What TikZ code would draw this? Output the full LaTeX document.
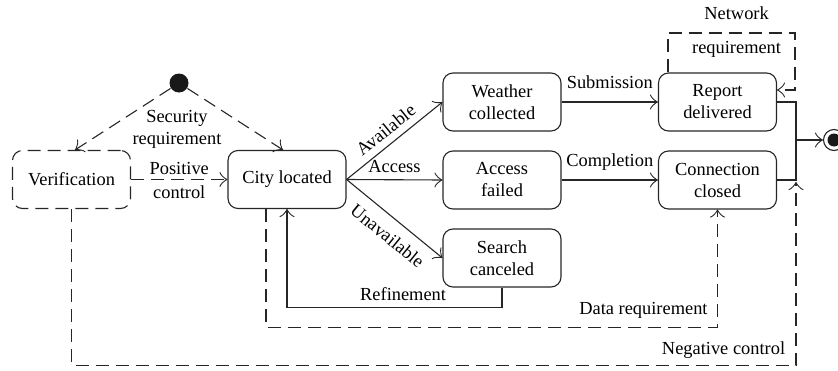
\documentclass[tikz,border=0pt]{standalone}
\usepackage{fontspec}
\setmainfont{Liberation Serif}
\usetikzlibrary{arrows.meta}
\begin{document}
\begin{tikzpicture}[x=1pt,y=-1pt,
  font=\fontsize{18.4}{22}\selectfont,
  line width=1.1pt,
  >={Classical TikZ Rightarrow[length=8pt,width=15pt]},
  state/.style={draw=black!85, rounded corners=10pt, minimum width=118pt, minimum height=58pt, align=center, inner sep=2pt},
  dsh/.style={dash pattern=on 13pt off 7pt},
  lbl/.style={inner sep=0pt, text height=12pt, text depth=0pt},
  conn/.style={draw=black!85},
]
\useasboundingbox (0,0) rectangle (838,370);

% states
\node[circle, fill=black!90, minimum size=19pt, inner sep=0pt] (init) at (179,83) {};
\node[state, dsh] (ver) at (71.5,179.5) {Verification};
\node[state] (city) at (287,179.5) {City located};
\node[state] (wea) at (502,102) {Weather\\collected};
\node[state] (acc) at (502,180) {Access\\failed};
\node[state] (sea) at (502,258) {Search\\canceled};
\node[state] (rep) at (717.5,102) {Report\\delivered};
\node[state] (con) at (717.5,180) {Connection\\closed};
\node[circle, draw=black!85, minimum size=21pt, inner sep=0pt] (fin) at (834,140) {};
\fill[black!90] (fin.center) circle (6.5);

\coordinate (j) at (796,140);
\coordinate (cj) at (con.east -| j);
\coordinate (nt) at (795,33);

% initial transitions
\draw[conn,dsh,->] (init) -- ([xshift=3.5pt]ver.north);
\draw[conn,dsh,->] (init) -- ([xshift=-4pt]city.north);
\node[align=center, inner sep=0pt] (secl) at (177,129) {Security\\requirement};

\draw[conn,dsh,->] (ver) -- node[lbl, above=4.5pt]{Positive} node[lbl, below=6pt]{control} (city);
\draw[conn,->] (city.east) -- node[lbl, sloped, above=7pt]{Available} (wea.west);
\draw[conn,->] (city.east) -- node[lbl, above=6.5pt]{Access} (acc.west);
\draw[conn,->] (city.east) -- node[lbl, sloped, below=11.5pt, pos=0.545]{Unavailable} (sea.west);
\draw[conn,->] (wea) -- node[lbl, above=13pt]{Submission} (rep);
\draw[conn,->] (acc) -- node[lbl, above=13pt]{Completion} (con);
\draw[conn,->] (sea.south) -- ++(0,20) -| node[lbl, pos=0.23, above=6.5pt]{Refinement} (city.south);

\draw[conn,dsh,->] ([xshift=-21pt]city.south) -- ++(0,118) -| node[lbl, pos=0.418, above=12.5pt]{Data requirement} (con.south);
\draw[conn,dsh,->,shorten >=2pt] (ver.south) -- ++(0,156) -| node[lbl, pos=0.45, above=10pt]{Negative control} (cj);

\draw[conn,dsh,->] ([xshift=-49.5pt]rep.north) |- node[lbl,pos=0.77,above=12.5pt]{Network} node[lbl,pos=0.77,below=8pt]{requirement} (nt) |- ([yshift=12pt]rep.east);

% to final state
\draw[conn] (rep.east) -| (j);
\draw[conn] (con.east) -| (j);
\draw[conn,->] (j) -- (fin);
\end{tikzpicture}
\end{document}
